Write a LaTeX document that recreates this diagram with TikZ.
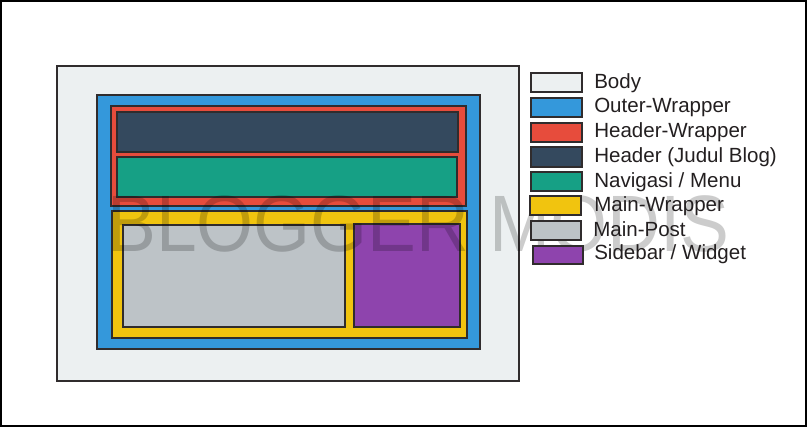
\documentclass[tikz,border=0pt]{standalone}
\usepackage{fontspec}
\setmainfont{Liberation Sans}
\usetikzlibrary{fit}
\definecolor{cbody}{HTML}{ECF0F1}
\definecolor{cblue}{HTML}{3498DB}
\definecolor{cred}{HTML}{E74C3C}
\definecolor{cdark}{HTML}{34495E}
\definecolor{cteal}{HTML}{16A085}
\definecolor{cyellow}{HTML}{F1C40F}
\definecolor{cgray}{HTML}{BDC3C7}
\definecolor{cpurple}{HTML}{8E44AD}
\definecolor{cline}{HTML}{302C2D}
\definecolor{ctext}{HTML}{231F20}
\tikzset{
  box/.style={draw=cline, line width=1.5pt, inner sep=0pt, outer sep=0pt},
  legtext/.style={anchor=base west, inner sep=0pt, text=ctext, font=\fontsize{15.4}{18}\selectfont},
  wm/.style={anchor=base west, inner sep=0pt, text=black, opacity=0.2, font=\fontsize{60}{70}\selectfont, xscale=0.915}
}
\begin{document}
\begin{tikzpicture}[x=0.75pt, y=-0.75pt]
\useasboundingbox (0,0) rectangle (807,427);
\node[draw=black, line width=0.9pt, inner sep=0pt, fit={(1,1) (806,426)}] (frame) {};
% layout
\node[box, fill=cbody,   fit={(57,66) (519,381)}] (body) {};
\node[box, fill=cblue,   fit={(97,95) (480,349)}] (outer) {};
\node[box, fill=cred,    fit={(111,106) (466,206)}] (hwrap) {};
\node[box, fill=cdark,   fit={(117,112) (458,152)}] (header) {};
\node[box, fill=cteal,   fit={(117,157) (457,197)}] (nav) {};
\node[box, fill=cyellow, fit={(112,211) (467,338)}] (mwrap) {};
\node[box, fill=cgray,   fit={(123,225) (345,327)}] (mpost) {};
\node[box, fill=cpurple, fit={(354,224) (460,327)}] (side) {};
% watermark
\node[wm] (wmark) at (107,252) {BLOGGER MODIS};
% legend
\node[box, fill=cbody,   fit={(531,73) (582,92)}] (l1) {};
\node[box, fill=cblue,   fit={(531,98) (582,117)}] (l2) {};
\node[box, fill=cred,    fit={(531,123) (582,142)}] (l3) {};
\node[box, fill=cdark,   fit={(531,147) (582,167)}] (l4) {};
\node[box, fill=cteal,   fit={(531,172) (582,191)}] (l5) {};
\node[box, fill=cyellow, fit={(530,196) (581,215)}] (l6) {};
\node[box, fill=cgray,   fit={(531,221) (581,240)}] (l7) {};
\node[box, fill=cpurple, fit={(533,246) (583,264)}] (l8) {};
\node[legtext] (t1) at (594,89) {Body};
\node[legtext] (t2) at (594,113) {Outer-Wrapper};
\node[legtext] (t3) at (594,138) {Header-Wrapper};
\node[legtext] (t4) at (594,163) {Header (Judul Blog)};
\node[legtext] (t5) at (594,188) {Navigasi / Menu};
\node[legtext] (t6) at (594,212) {Main-Wrapper};
\node[legtext] (t7) at (593,237) {Main-Post};
\node[legtext] (t8) at (594,260) {Sidebar / Widget};
\end{tikzpicture}
\end{document}
